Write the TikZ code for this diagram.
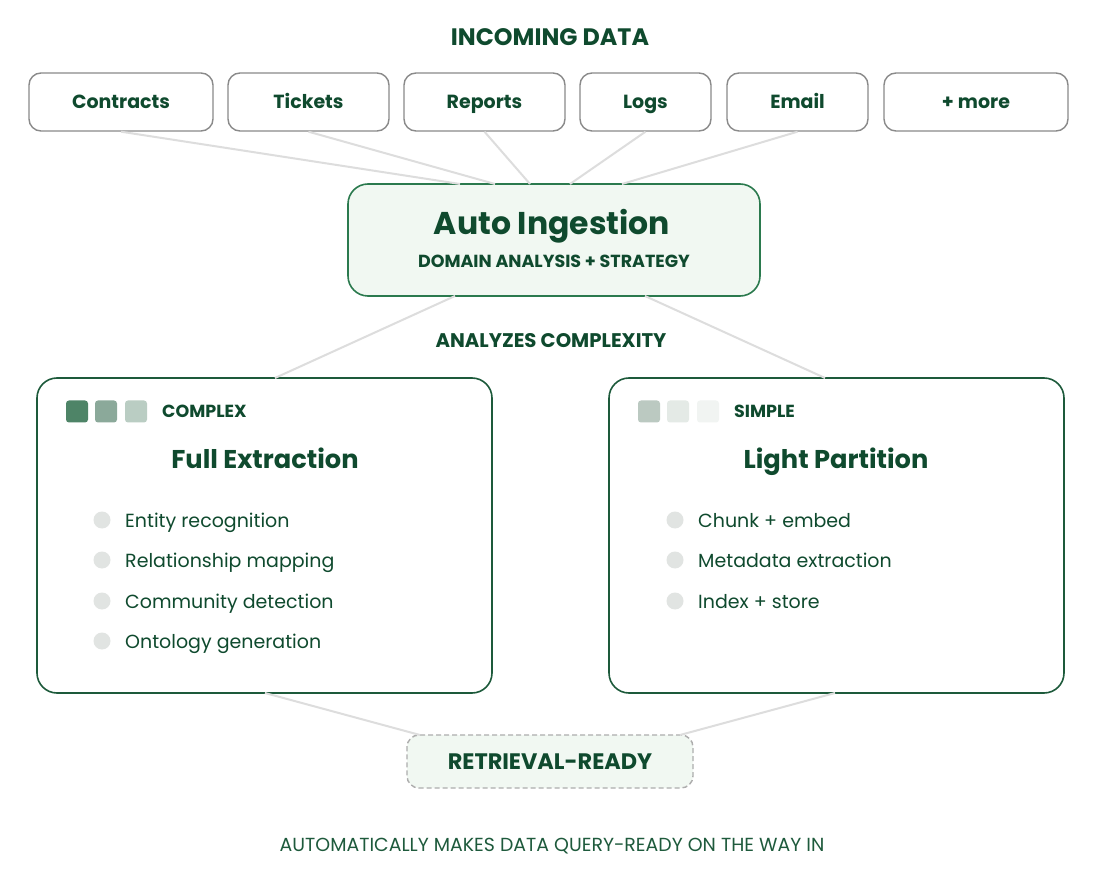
\documentclass[tikz,border=0pt]{standalone}
\usepackage{fontspec}
\setmainfont{Poppins}
\usetikzlibrary{calc}
\definecolor{ink}{HTML}{0F4A2E}
\definecolor{inkl}{HTML}{1E5A3C}
\definecolor{gborder}{HTML}{2B7A4E}
\definecolor{dborder}{HTML}{1D5A3B}
\definecolor{lgfill}{HTML}{F1F8F2}
\definecolor{conn}{HTML}{DDDDDD}
\definecolor{srcb}{HTML}{8A8A8A}
\definecolor{sqa}{HTML}{4E8467}
\definecolor{sqb}{HTML}{8BA99A}
\definecolor{sqc}{HTML}{BACDC3}
\definecolor{sqd}{HTML}{BBC9C1}
\definecolor{sqe}{HTML}{E4EAE6}
\definecolor{sqf}{HTML}{F1F4F2}
\definecolor{dot}{HTML}{E1E4E2}
\tikzset{
  x=1pt,y=-1pt,
  srcbox/.style={draw=srcb,line width=1.4pt,rounded corners=12pt,fill=white,minimum height=58pt,inner sep=0pt,text=ink,font=\fontsize{19}{21}\selectfont\bfseries,text height=13.3pt,text depth=0pt},
  conline/.style={draw=conn,line width=2pt},
  bigbox/.style={draw=dborder,line width=1.6pt,rounded corners=20pt,fill=white,minimum width=455pt,minimum height=315pt,inner sep=0pt},
  sq/.style={rounded corners=3pt,minimum size=22pt,inner sep=0pt},
  bul/.style={circle,fill=dot,minimum size=17pt,inner sep=0pt},
  item/.style={anchor=base west,text=ink,font=\fontsize{19}{21}\selectfont,inner sep=0pt},
  tag/.style={anchor=base west,text=ink,font=\fontsize{17.5}{19}\selectfont\bfseries,inner sep=0pt},
  ttl/.style={anchor=base,text=ink,font=\fontsize{25.7}{28}\selectfont\bfseries,inner sep=0pt},
  lbl/.style={anchor=base,text=ink,inner sep=0pt},
}
\begin{document}
\begin{tikzpicture}
\useasboundingbox[fill=white] (0,0) rectangle (1101,874);
\node[lbl,font=\fontsize{23.8}{26}\selectfont\bfseries] (hdr) at (550,46) {INCOMING DATA};
\node[srcbox,minimum width=184pt] (s1) at (121,102) {Contracts};
\node[srcbox,minimum width=161pt] (s2) at (308.5,102) {Tickets};
\node[srcbox,minimum width=161pt] (s3) at (484.5,102) {Reports};
\node[srcbox,minimum width=131pt] (s4) at (645.5,102) {Logs};
\node[srcbox,minimum width=141pt] (s5) at (797.5,102) {Email};
\node[srcbox,minimum width=184pt] (s6) at (976,102) {+ more};
\node[draw=gborder,line width=1.6pt,rounded corners=20pt,fill=lgfill,minimum width=412pt,minimum height=112pt,inner sep=0pt] (auto) at (554,240) {};
\node[lbl,font=\fontsize{31.5}{34}\selectfont\bfseries] (autot) at (552,235) {Auto Ingestion};
\node[lbl,font=\fontsize{17.5}{19}\selectfont\bfseries] (autos) at (554,268) {DOMAIN ANALYSIS + STRATEGY};
\coordinate (a1) at (460,184);
\coordinate (a2) at (495,184);
\coordinate (a3) at (530,184);
\coordinate (a4) at (570,184);
\coordinate (a5) at (622,184);
\draw[conline] (s1.south) -- (a1);
\draw[conline] (s2.south) -- (a2);
\draw[conline] (s3.south) -- (a3);
\draw[conline] (s4.south) -- (a4);
\draw[conline] (s5.south) -- (a5);
\node[lbl,font=\fontsize{19.7}{21}\selectfont\bfseries] (anl) at (551,348) {ANALYZES COMPLEXITY};
\node[bigbox] (left) at (264.5,535.5) {};
\node[bigbox] (right) at (836.5,535.5) {};
\coordinate (ab1) at (455,296);
\coordinate (ab2) at (645,296);
\coordinate (lt) at (275,378);
\coordinate (rt) at (825,378);
\draw[conline] (ab1) -- (lt);
\draw[conline] (ab2) -- (rt);
% left content
\node[sq,fill=sqa] (q1) at (77,411.5) {};
\node[sq,fill=sqb] (q2) at (106,411.5) {};
\node[sq,fill=sqc] (q3) at (136,411.5) {};
\node[tag] (tl) at (162,417.5) {COMPLEX};
\node[ttl] (ttlL) at (265,468) {Full Extraction};
\foreach \y/\t [count=\i] in {520/Entity recognition,560/Relationship mapping,601/Community detection,641/Ontology generation}{
  \node[bul] (lb\i) at (102,\y) {};
  \node[item] (li\i) at (125,\y+7) {\t};
}
% right content
\node[sq,fill=sqd] (r1) at (649,411.5) {};
\node[sq,fill=sqe] (r2) at (678,411.5) {};
\node[sq,fill=sqf] (r3) at (708,411.5) {};
\node[tag] (tr) at (734,417.5) {SIMPLE};
\node[ttl] (ttlR) at (836,468) {Light Partition};
\foreach \y/\t [count=\i] in {520/Chunk + embed,560/Metadata extraction,601/Index + store}{
  \node[bul] (rb\i) at (675,\y) {};
  \node[item] (ri\i) at (698,\y+7) {\t};
}
% retrieval
\node[draw=srcb!70,dash pattern=on 5pt off 3pt,line width=1.4pt,rounded corners=12pt,fill=lgfill,minimum width=286pt,minimum height=53pt,inner sep=0pt] (ret) at (550,761.5) {};
\node[lbl,font=\fontsize{22.4}{24}\selectfont\bfseries] (rett) at (550,769) {RETRIEVAL-READY};
\coordinate (lb) at (265,693);
\coordinate (rb) at (835,693);
\coordinate (e1) at (420,735);
\coordinate (e2) at (680,735);
\draw[conline] (lb) -- (e1);
\draw[conline] (rb) -- (e2);
\node[lbl,text=inkl,font=\fontsize{18.9}{20}\selectfont] (foot) at (552,851.5) {AUTOMATICALLY MAKES DATA QUERY-READY ON THE WAY IN};
\end{tikzpicture}
\end{document}
